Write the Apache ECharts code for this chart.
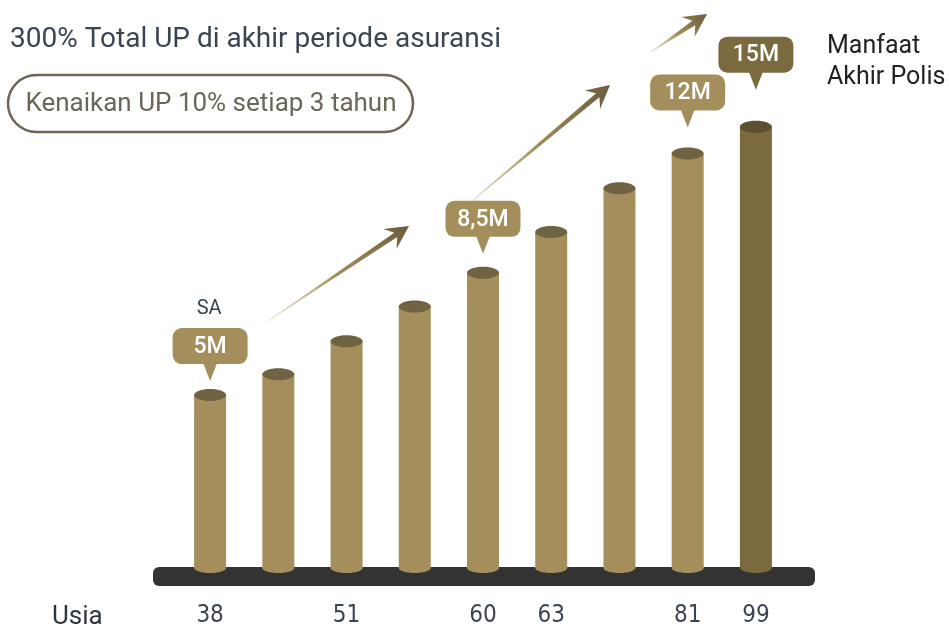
<!DOCTYPE html>
<html><head><meta charset="utf-8">
<script src="https://cdn.jsdelivr.net/npm/echarts@6/dist/echarts.min.js"></script>
<style>html,body{margin:0;padding:0;background:#fff}#c{width:949px;height:628px}</style>
</head><body><div id="c"></div>
<script>
// ---- data ----
const ageLabels = ['38', '', '51', '', '60', '63', '', '81', '99'];
const barHeights = [34.8, 39.0, 45.6, 52.6, 59.4, 67.6, 76.4, 83.4, 88.8];
const calloutIndex = [0, 4, 7, 8];
const calloutText = ['5M', '8,5M', '12M', '15M'];
const titleText = '300% Total UP di akhir periode asuransi';
const pillText = 'Kenaikan UP 10% setiap 3 tahun';
const endLabel = ['Manfaat', 'Akhir Polis'];
const axisName = 'Usia';
const saLabel = 'SA';

// ---- style ----
const FONT = 'Roboto, "Noto Sans", sans-serif';
const NARROW = '"Liberation Sans Narrow", "DejaVu Sans Condensed", Roboto, sans-serif';
const BODY = '#a48f5c', CAP = '#6f6343', BODY_D = '#7a6a3e', CAP_D = '#5b4e31';
const calloutGap = [14, 19, 26, 37];

const chart = echarts.init(document.getElementById('c'));

function arrow(tail, tip) {
  const dx = tip[0] - tail[0], dy = tip[1] - tail[1];
  const L = Math.hypot(dx, dy);
  const d = [dx / L, dy / L], n = [-d[1], d[0]];
  const at = (a, b) => [tip[0] + d[0] * a + n[0] * b, tip[1] + d[1] * a + n[1] * b];
  const pts = [
    [tail[0] + n[0] * 0.4, tail[1] + n[1] * 0.4],
    at(-16, 2.6), at(-23, 12), tip, at(-23, -12), at(-16, -2.6),
    [tail[0] - n[0] * 0.4, tail[1] - n[1] * 0.4]
  ];
  return {
    type: 'polygon', z: 1, silent: true,
    shape: { points: pts },
    style: {
      fill: new echarts.graphic.LinearGradient(tail[0], tail[1], tip[0], tip[1], [
        { offset: 0, color: 'rgba(214,202,166,0.6)' },
        { offset: 0.5, color: '#a08c5a' },
        { offset: 1, color: '#6b5d3c' }
      ], true)
    }
  };
}

const option = {
  animation: false,
  grid: { left: 176, right: 159, top: 71, bottom: 57 },
  xAxis: {
    type: 'category', data: ageLabels,
    axisLine: { show: false }, axisTick: { show: false },
    axisLabel: { interval: 0, margin: 36, fontFamily: NARROW, fontSize: 24, color: '#3b4450' }
  },
  yAxis: { type: 'value', min: 0, max: 100, show: false, splitLine: { show: false } },
  graphic: [
    { type: 'rect', z: 0, silent: true, shape: { x: 153, y: 567, width: 662, height: 19, r: 6 }, style: { fill: '#333333' } },
    { type: 'text', x: 10, y: 40, style: { text: titleText, font: '28px ' + FONT, fill: '#3a4552', verticalAlign: 'middle' } },
    { type: 'rect', silent: true, shape: { x: 8, y: 75, width: 405, height: 57, r: 28.5 }, style: { fill: 'none', stroke: '#6e6757', lineWidth: 2.5 } },
    { type: 'text', x: 211, y: 104, style: { text: pillText, font: '26px ' + FONT, fill: '#6b6657', align: 'center', verticalAlign: 'middle' } },
    { type: 'text', x: 827, y: 47, style: { text: endLabel[0], font: '25px ' + FONT, fill: '#222222', verticalAlign: 'middle' } },
    { type: 'text', x: 827, y: 78, style: { text: endLabel[1], font: '25px ' + FONT, fill: '#222222', verticalAlign: 'middle' } },
    { type: 'text', x: 52, y: 617, style: { text: axisName, font: '26px ' + FONT, fill: '#2e3640', verticalAlign: 'middle' } },
    arrow([268, 321], [409, 226]),
    arrow([466, 206], [610, 85]),
    arrow([651, 52], [707, 14])
  ],
  series: [
    {
      type: 'custom', z: 3,
      data: barHeights.map((v, i) => [i, v]),
      encode: { x: 0, y: 1 },
      renderItem(params, api) {
        const i = params.dataIndex;
        const top = api.coord([api.value(0), api.value(1)]);
        const base = api.coord([api.value(0), 0]);
        const w = 32, rx = 16;
        const last = i === barHeights.length - 1;
        const body = last ? BODY_D : BODY, cap = last ? CAP_D : CAP;
        return {
          type: 'group', children: [
            { type: 'ellipse', shape: { cx: top[0], cy: base[1], rx: rx, ry: 5 }, style: { fill: body } },
            { type: 'rect', shape: { x: top[0] - w / 2, y: top[1], width: w, height: base[1] - top[1] }, style: { fill: body } },
            { type: 'ellipse', shape: { cx: top[0], cy: top[1], rx: rx, ry: 6 }, style: { fill: cap } }
          ]
        };
      }
    },
    {
      type: 'custom', z: 4,
      data: calloutIndex.map((ci, k) => [ci, barHeights[ci], k]),
      encode: { x: 0, y: 1 },
      renderItem(params, api) {
        const k = api.value(2);
        const p = api.coord([api.value(0), api.value(1)]);
        const cx = p[0];
        const tipY = p[1] - calloutGap[k];
        const boxB = tipY - 17, boxT = boxB - 36, w = 75;
        const col = k === calloutText.length - 1 ? BODY_D : BODY;
        const children = [
          { type: 'rect', shape: { x: cx - w / 2, y: boxT, width: w, height: 36, r: 9 }, style: { fill: col } },
          { type: 'polygon', shape: { points: [[cx - 7, boxB - 1], [cx + 7, boxB - 1], [cx, tipY]] }, style: { fill: col } },
          { type: 'text', style: { text: calloutText[k], x: cx, y: boxT + 19, align: 'center', verticalAlign: 'middle', fill: '#ffffff', font: '500 23px ' + FONT } }
        ];
        if (k === 0) {
          children.push({ type: 'text', style: { text: saLabel, x: cx - 1, y: boxT - 19, align: 'center', verticalAlign: 'middle', fill: '#3a4552', font: '20px ' + FONT } });
        }
        return { type: 'group', children };
      }
    }
  ]
};
chart.setOption(option);
</script>
</body></html>
